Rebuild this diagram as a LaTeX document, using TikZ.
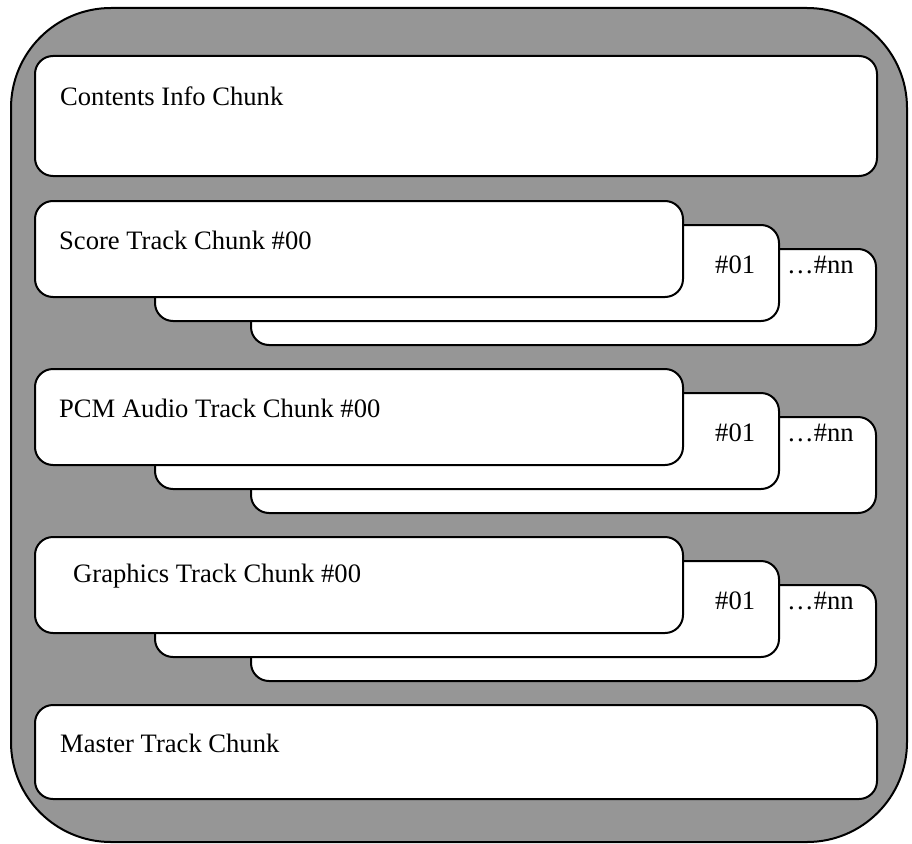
\documentclass[tikz,border=0pt]{standalone}
\usepackage{fontspec}
\setmainfont{Liberation Serif}
\usepackage{tikz}
\usetikzlibrary{positioning}

\definecolor{filegray}{RGB}{150,150,150}

\begin{document}
\begin{tikzpicture}[x=1pt, y=-1pt,
        outer/.style={rectangle, draw=black, fill=filegray, line width=2pt,
                      rounded corners=100pt, anchor=north west, inner sep=0pt},
        chunk/.style={rectangle, draw=black, fill=white, line width=2pt,
                      rounded corners=18pt, anchor=north west, inner sep=0pt},
        lbl/.style={anchor=west, inner sep=0pt, font=\fontsize{26.6}{30}\selectfont}
    ]
        \useasboundingbox (0,0) rectangle (912,843);

        \node[outer, minimum width=896pt, minimum height=834pt] (file) at (10,7) {};

        % contents info
        \node[chunk, minimum width=842pt, minimum height=120pt] (info) at (34,55) {};
        \node[lbl] (infotxt) at ([xshift=26pt, yshift=-41pt]info.north west) {Contents Info Chunk};

        % track chunks, each as a stack of three
        \foreach \name/\y/\dx/\txt in {score/200/25/Score Track Chunk \#00,
                                       pcm/368/25/PCM Audio Track Chunk \#00,
                                       gfx/536/39/Graphics Track Chunk \#00} {
            \node[chunk, minimum width=625pt, minimum height=96pt] (\name nn) at (250,\y+48) {};
            \node[chunk, minimum width=624pt, minimum height=96pt] (\name 01) at (154,\y+24) {};
            \node[chunk, minimum width=648pt, minimum height=96pt] (\name 00) at (34,\y) {};
            \node[lbl] (\name txt) at ([xshift=\dx pt, yshift=-40pt]\name 00.north west) {\txt};
            \node[lbl] (\name txta) at ([xshift=-65pt, yshift=-41pt]\name 01.north east) {\#01};
            \node[lbl] (\name txtb) at ([xshift=7pt, yshift=-41pt]\name 01.north east) {\ldots\#nn};
        }

        % master track
        \node[chunk, minimum width=842pt, minimum height=94pt] (master) at (34,704) {};
        \node[lbl] (mastertxt) at ([xshift=26pt, yshift=-39pt]master.north west) {Master Track Chunk};
    \end{tikzpicture}
\end{document}
